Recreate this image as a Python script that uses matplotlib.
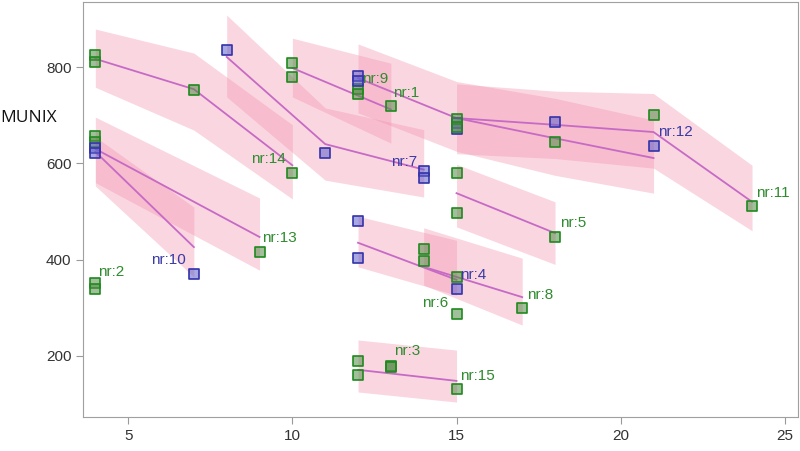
import matplotlib.pyplot as plt

# observations: subject number, time, MUNIX value
obs_nr = [14, 14, 14, 14, 13, 13, 13, 10, 10, 10, 2, 2,
          1, 1, 1, 7, 7, 7, 7, 9, 9,
          12, 12, 12, 12, 12, 12, 11, 11, 11, 11, 11,
          5, 5, 5, 4, 4, 4, 6, 6, 8, 8, 8, 15, 15, 15, 3, 3]
obs_x = [4, 4, 7, 10, 4, 4, 9, 4, 4, 7, 4, 4,
         10, 10, 13, 8, 11, 14, 14, 12, 12,
         12, 12, 15, 15, 18, 21, 15, 15, 18, 21, 24,
         15, 15, 18, 12, 12, 15, 15, 15, 14, 14, 17, 12, 12, 15, 13, 13]
obs_y = [825, 810, 752, 580, 657, 645, 415, 632, 622, 370, 351, 338,
         808, 779, 719, 835, 621, 584, 570, 755, 745,
         782, 771, 683, 672, 686, 636, 692, 676, 645, 700, 511,
         580, 497, 446, 480, 403, 339, 363, 287, 422, 398, 299, 190, 160, 132, 178, 176]

blue_nr = [10, 7, 12, 4]

# fitted curves with confidence band per subject
curve_nr = [14, 13, 10, 1, 7, 12, 11, 5, 4, 8, 15]
curve_x = [[4, 7, 10], [4, 9], [4, 7], [10, 13], [8, 11, 14], [12, 15, 18, 21],
           [15, 18, 21, 24], [15, 18], [12, 15], [14, 17], [12, 15]]
curve_fit = [[817, 754, 596], [630, 447], [624, 426], [798, 712], [821, 640, 587],
             [777, 694, 652, 611], [694, 680, 665, 520], [538, 455], [435, 358],
             [385, 322], [171, 148]]
curve_lo = [[758, 669, 526], [560, 378], [553, 364], [738, 642], [738, 565, 530],
            [705, 625, 575, 538], [620, 610, 590, 460], [468, 390], [385, 326],
            [347, 264], [125, 104]]
curve_hi = [[879, 829, 680], [696, 528], [655, 509], [860, 808], [908, 715, 670],
            [848, 770, 735, 690], [765, 750, 745, 596], [598, 520], [490, 440],
            [466, 403], [233, 212]]

# label offsets in pixels from the subject's last point
label_nr = [14, 13, 10, 2, 9, 1, 7, 12, 11, 5, 8, 4, 6, 3, 15]
label_dx = [-7, 3, -8, 3, 4, 2, -7, 5, 4, 5, 5, 4, -8, 3, 4]
label_dy = [14, 14, 14, 11, 10, 13, 9, 14, 13, 14, 13, 14, 11, 15, 13]
label_ha = ['right', 'left', 'right', 'left', 'left', 'left', 'right', 'left',
            'left', 'left', 'left', 'left', 'right', 'left', 'left']
label_anchor_y = {2: 351, 9: 755, 6: 287, 4: 339, 12: 636, 7: 584, 3: 178}

green_edge = '#1f8a1f'
green_face = (0.33, 0.55, 0.28, 0.55)
blue_edge = '#3333aa'
blue_face = (0.38, 0.38, 0.80, 0.55)
band_color = '#f28eac'
line_color = '#c66ac6'

plt.rcParams['font.family'] = ['Liberation Sans', 'DejaVu Sans']
fig = plt.figure(figsize=(8, 4.51), dpi=100)
ax = fig.add_axes([0.104, 0.0754, 0.8935, 0.920])

for nr, xs, fit, lo, hi in zip(curve_nr, curve_x, curve_fit, curve_lo, curve_hi):
    ax.fill_between(xs, lo, hi, color=band_color, alpha=0.36, linewidth=0, zorder=1)
for nr, xs, fit in zip(curve_nr, curve_x, curve_fit):
    ax.plot(xs, fit, color=line_color, lw=1.3, zorder=2)

for nr, x, y in zip(obs_nr, obs_x, obs_y):
    if nr in blue_nr:
        fc, ec = blue_face, blue_edge
    else:
        fc, ec = green_face, green_edge
    ax.scatter([x], [y], s=44, marker='s', facecolors=[fc], edgecolors=ec,
               linewidths=1.2, zorder=3)

for nr, dx, dy, ha in zip(label_nr, label_dx, label_dy, label_ha):
    xs = [x for n, x in zip(obs_nr, obs_x) if n == nr]
    ys = [y for n, y in zip(obs_nr, obs_y) if n == nr]
    lx = max(xs)
    ly = label_anchor_y.get(nr, min(y for x, y in zip(xs, ys) if x == lx))
    col = '#3a3aa6' if nr in blue_nr else '#2e8b2e'
    ax.annotate('nr:%d' % nr, (lx, ly), xytext=(dx, dy), textcoords='offset pixels',
                ha=ha, va='center', fontsize=11, color=col, zorder=4)

ax.set_xlim(3.63, 25.4)
ax.set_ylim(73, 935)
ax.set_xticks([5, 10, 15, 20, 25])
ax.set_yticks([200, 400, 600, 800])
ax.tick_params(colors='#9a9a9a', labelcolor='#333333', labelsize=11, length=5)
for s in ax.spines.values():
    s.set_color('#a0a0a0')

fig.text(0.0, 1 - 118 / 451, 'MUNIX', family='Open Sans', fontsize=12.5,
         ha='left', va='center', color='#111111')

fig.savefig('out.png', dpi=100)
